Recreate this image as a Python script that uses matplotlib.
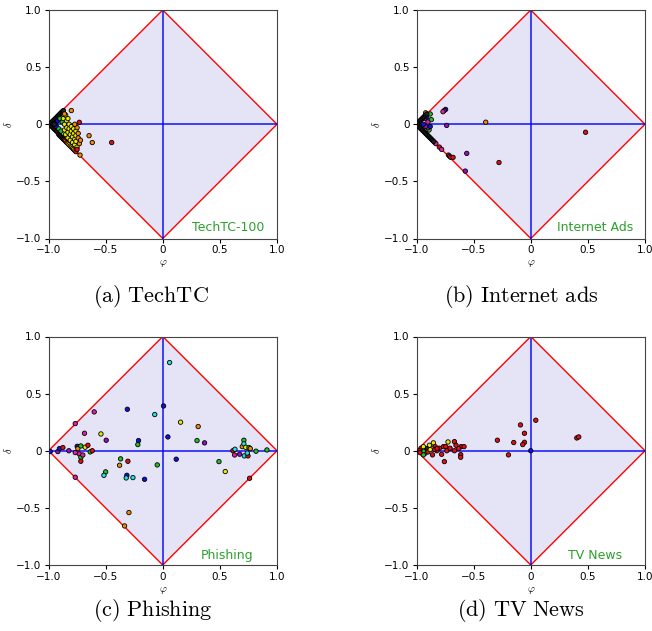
import numpy as np
import matplotlib
matplotlib.use("Agg")
import matplotlib.pyplot as plt
from matplotlib.patches import Polygon

plt.rcParams["mathtext.fontset"] = "cm"

# colour codes used for the points
palette = {
    "k": "#202020", "r": "#e01010", "o": "#f08a00", "y": "#e8e800",
    "g": "#20c020", "c": "#20e0e0", "b": "#1010e0", "p": "#9010c0",
    "m": "#e020a0",
}

# ---- TechTC-100 ----
tech_phi = [-0.99, -0.98, -0.98, -0.97, -0.97, -0.96, -0.96, -0.95, -0.95, -0.96,
            -0.94, -0.94, -0.93, -0.93, -0.92, -0.92, -0.91, -0.91, -0.90, -0.90,
            -0.89, -0.89, -0.88, -0.88, -0.87, -0.87, -0.86, -0.85, -0.84, -0.83,
            -0.82, -0.81, -0.80, -0.79, -0.78, -0.77, -0.76,
            -0.94, -0.93, -0.92, -0.95, -0.90, -0.91, -0.89, -0.88,
            -0.87, -0.86, -0.86, -0.85, -0.84, -0.84, -0.83, -0.83, -0.82, -0.82,
            -0.81, -0.81, -0.80, -0.80, -0.79, -0.79, -0.78, -0.78, -0.77, -0.77,
            -0.76, -0.76, -0.76, -0.75, -0.85, -0.83,
            -0.80, -0.75, -0.74, -0.74, -0.73, -0.72, -0.645, -0.617, -0.724,
            -0.86, -0.77, -0.73, -0.447, -0.75]
tech_delta = [0.00, 0.01, -0.01, 0.02, -0.02, 0.03, -0.03, 0.04, -0.04, 0.00,
              0.05, -0.05, 0.06, -0.06, 0.07, -0.07, 0.08, -0.09, 0.09, -0.10,
              0.10, -0.11, 0.11, -0.12, 0.12, -0.13, -0.14, -0.15, -0.16, -0.17,
              -0.18, -0.19, -0.20, -0.21, -0.22, -0.23, -0.24,
              0.01, -0.02, 0.03, 0.00, 0.05, -0.04, -0.06, 0.02,
              0.05, 0.00, -0.05, -0.09, 0.03, -0.03, -0.07, -0.12, 0.00, -0.04,
              -0.09, -0.14, -0.02, -0.06, -0.11, -0.16, -0.04, -0.08, -0.13, -0.18,
              -0.06, -0.10, -0.15, -0.20, 0.08, 0.05,
              0.12, -0.03, -0.08, -0.12, -0.17, -0.14, -0.10, -0.16, -0.27,
              0.09, 0.00, 0.017, -0.16, -0.22]
tech_col = (["k"] * 26 + ["r", "o", "r", "o", "y", "o", "y", "o", "y", "o", "r"]
            + ["b", "b", "b", "k", "g", "g", "g", "g"]
            + ["y"] * 26
            + ["o"] * 11 + ["r", "r", "r"])

# ---- Internet Ads ----
ads_phi = [-0.745, -0.757, -0.768, -0.736, -0.394, 0.48, -0.56, -0.278, -0.573,
           -0.84, -0.83, -0.80, -0.78, -0.72, -0.71, -0.70, -0.68,
           -0.88, -0.87, -0.89, -0.91, -0.92, -0.93, -0.90, -0.92,
           -0.99, -0.98, -0.97, -0.96, -0.95, -0.94, -0.93, -0.92, -0.91,
           -0.98, -0.97, -0.96, -0.95, -0.94, -0.93, -0.92, -0.91, -0.90, -0.89,
           -0.88, -0.87, -0.86, -0.85, -0.94, -0.90, -0.88]
ads_delta = [0.13, 0.12, 0.11, -0.01, 0.018, -0.07, -0.255, -0.335, -0.41,
             -0.16, -0.17, -0.20, -0.22, -0.27, -0.28, -0.29, -0.29,
             0.09, 0.04, -0.05, 0.06, 0.10, 0.05, -0.03, -0.02,
             0.00, 0.02, 0.03, 0.04, 0.05, 0.06, 0.07, 0.08, 0.09,
             -0.02, -0.03, -0.04, -0.05, -0.06, -0.07, -0.08, -0.09, -0.10, -0.11,
             -0.12, -0.13, -0.14, -0.15, 0.00, 0.02, -0.02]
ads_col = (["b", "p", "m", "p", "o", "r", "p", "r", "p",
            "r", "m", "r", "m", "r", "m", "r", "r",
            "g", "g", "g", "b", "o", "m", "m", "p"]
           + ["k"] * 23 + ["b", "m", "b"])

# ---- Phishing ----
phish_phi = [0.06, 0.007, -0.07, -0.31, 0.156, 0.31, 0.045, 0.30, 0.366, -0.60,
             -0.766, -0.685, -0.541, -0.495, -0.212, -0.218, -0.048, 0.118, -0.369,
             -0.305, -0.378, -0.50, -0.515, -0.314, -0.32, -0.261, -0.159, -0.296,
             -0.334, -0.766, 0.492, 0.547, 0.76, 0.912, 0.816,
             -0.985, -0.918, -0.904, -0.874, -0.822, -0.766, -0.749, -0.743, -0.73,
             -0.717, -0.717, -0.717, -0.70, -0.679, -0.655, -0.635, -0.617,
             0.614, 0.632, 0.629, 0.673, 0.696, 0.71, 0.71, 0.714, 0.726, 0.746,
             0.74, 0.755, 0.766]
phish_delta = [0.772, 0.392, 0.317, 0.363, 0.25, 0.212, 0.121, 0.089, 0.069, 0.34,
               0.238, 0.153, 0.147, 0.092, 0.089, 0.054, -0.124, -0.074, -0.071,
               -0.092, -0.127, -0.185, -0.215, -0.215, -0.238, -0.235, -0.25, -0.541,
               -0.658, -0.232, -0.095, -0.182, -0.241, 0.007, -0.004,
               -0.007, -0.007, 0.019, 0.028, 0.0, -0.016, 0.039, 0.019, -0.028,
               0.042, -0.057, -0.092, -0.037, 0.031, 0.048, -0.01, 0.0,
               0.0, 0.013, -0.037, -0.03, 0.036, 0.092, 0.06, -0.045, 0.03, -0.045,
               -0.02, 0.028, 0.019]
phish_col = ["c", "b", "c", "b", "y", "o", "b", "g", "p", "m",
             "m", "m", "y", "p", "b", "g", "g", "b", "g",
             "r", "o", "g", "c", "b", "c", "c", "b", "o",
             "o", "m", "g", "y", "r", "g", "g",
             "b", "p", "b", "r", "p", "m", "b", "o", "m",
             "g", "g", "r", "m", "y", "r", "g", "r",
             "r", "c", "m", "p", "o", "g", "c", "c", "y", "r",
             "c", "g", "o"]

# ---- TV News ----
tv_phi = [0.044, -0.09, -0.055, -0.055, -0.07, -0.149, -0.292, -0.195, 0.0,
          0.403, 0.42, -0.756, -0.668, -0.654, -0.724, -0.61, -0.584, -0.63,
          -0.613, -0.613, -0.668, -0.78, -0.764, -0.744, -0.80, -0.852, -0.867,
          -0.887, -0.837, -0.822, -0.86, -0.925, -0.94, -0.96, -0.974, -0.91,
          -0.94, -0.90, -0.735, -0.706, -0.94, -0.97, -0.88, -0.84, -0.82]
tv_delta = [0.267, 0.226, 0.153, 0.074, 0.054, 0.072, 0.092, -0.036, 0.0,
            0.112, 0.121, -0.095, 0.08, 0.048, 0.077, 0.036, 0.036, 0.019,
            -0.034, -0.057, 0.0, -0.031, 0.036, 0.036, 0.022, 0.069, 0.022,
            0.048, 0.036, 0.0, -0.036, -0.022, 0.0, 0.022, 0.0, 0.019,
            -0.036, -0.01, 0.0, 0.022, 0.036, -0.016, 0.01, 0.01, 0.02]
tv_col = ["r", "r", "r", "r", "r", "r", "r", "r", "b",
          "r", "r", "r", "r", "r", "y", "r", "r", "r",
          "r", "r", "r", "r", "r", "r", "r", "y", "y",
          "y", "r", "r", "r", "g", "g", "r", "r", "k",
          "g", "r", "r", "r", "y", "r", "y", "r", "r"]

panels = [
    (tech_phi, tech_delta, tech_col, "TechTC-100", 0.89, -0.905, r"$\mathrm{(a)\ TechTC}$"),
    (ads_phi, ads_delta, ads_col, "Internet Ads", 0.90, -0.905, r"$\mathrm{(b)\ Internet\ ads}$"),
    (phish_phi, phish_delta, phish_col, "Phishing", 0.79, -0.915, r"$\mathrm{(c)\ Phishing}$"),
    (tv_phi, tv_delta, tv_col, "TV News", 0.80, -0.915, r"$\mathrm{(d)\ TV\ News}$"),
]

W, H = 652, 631
fig = plt.figure(figsize=(W / 100, H / 100), dpi=100)

# axes boxes in pixels: left, top, right, bottom ; caption centre x, y
boxes = [(48.5, 10, 277, 238.5, 151, 296),
         (416.5, 10, 645, 238.5, 521, 296),
         (48.5, 336.5, 277, 565, 153, 610),
         (416.5, 336.5, 645, 565, 521, 610)]

ticks = [-1.0, -0.5, 0.0, 0.5, 1.0]
tick_labels = ["\u22121.0", "\u22120.5", "0", "0.5", "1.0"]

for (phi, delta, col, name, tx, ty, caption), (l, t, r, b, cx, cy) in zip(panels, boxes):
    ax = fig.add_axes([l / W, 1 - b / H, (r - l) / W, (b - t) / H])
    diamond = Polygon([(-1, 0), (0, 1), (1, 0), (0, -1)], closed=True,
                      facecolor="#e4e4f6", edgecolor="red", linewidth=1.0, zorder=1)
    ax.add_patch(diamond)
    ax.plot([-1, 1], [0, 0], color="blue", linewidth=1.2, alpha=0.85, zorder=2)
    ax.plot([0, 0], [-1, 1], color="blue", linewidth=1.2, alpha=0.85, zorder=2)
    ax.scatter(phi, delta, c=[palette[k] for k in col], s=10,
               edgecolors="black", linewidths=0.6, zorder=3)
    ax.text(tx, ty, name, color="#2ca02c", fontsize=9, ha="right", va="center", zorder=4)
    ax.set_xlim(-1, 1)
    ax.set_ylim(-1, 1)
    ax.set_xticks(ticks)
    ax.set_yticks(ticks)
    ax.set_xticklabels(tick_labels, fontsize=7.5)
    ax.set_yticklabels(tick_labels, fontsize=7.5)
    ax.tick_params(length=3, width=0.8, pad=2)
    ax.set_xlabel(r"$\varphi$", fontsize=7.5, labelpad=2)
    ax.set_ylabel(r"$\delta$", fontsize=7.5, labelpad=2)
    for s in ax.spines.values():
        s.set_linewidth(0.8)
        s.set_color("#444444")
    fig.text(cx / W, 1 - cy / H, caption, fontsize=16, ha="center", va="center")

fig.savefig("out.png", dpi=100)
